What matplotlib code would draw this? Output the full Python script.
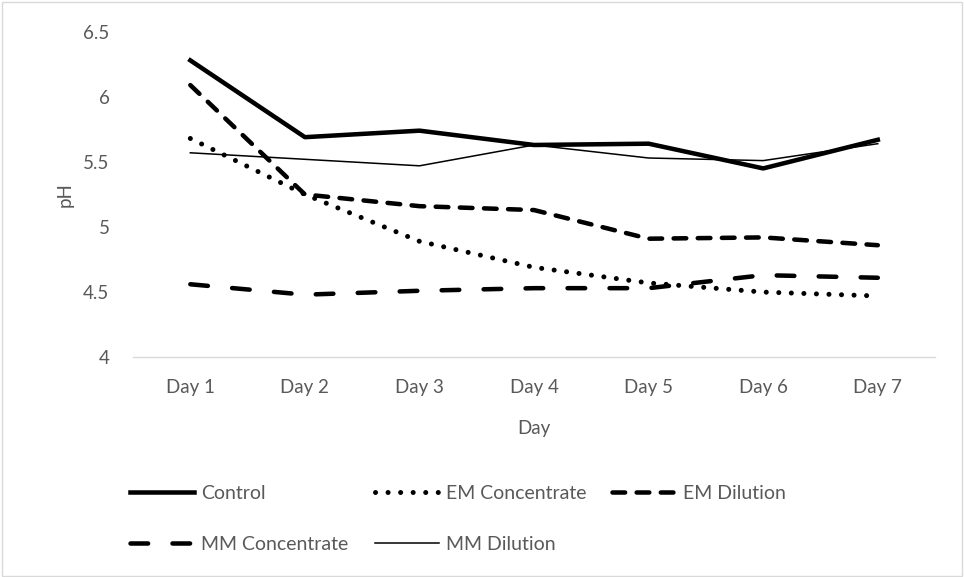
import numpy as np
import matplotlib
matplotlib.use("Agg")
import matplotlib.pyplot as plt
from matplotlib.patches import Rectangle

plt.rcParams['font.family'] = ['Lato', 'DejaVu Sans']

days = ["Day 1", "Day 2", "Day 3", "Day 4", "Day 5", "Day 6", "Day 7"]
control = [6.28, 5.69, 5.74, 5.63, 5.64, 5.45, 5.67]
em_concentrate = [5.68, 5.25, 4.89, 4.69, 4.57, 4.50, 4.47]
em_dilution = [6.09, 5.25, 5.16, 5.13, 4.91, 4.92, 4.86]
mm_concentrate = [4.56, 4.48, 4.51, 4.53, 4.53, 4.63, 4.61]
mm_dilution = [5.57, 5.52, 5.47, 5.63, 5.53, 5.51, 5.64]

grey = '#595959'
light = '#d9d9d9'
lw_thick = 3.25
fs = 13.5

series = [
    ('Control', control, dict(lw=lw_thick, ls='-')),
    ('EM Concentrate', em_concentrate, dict(lw=3.6, ls=(0, (0.01, 2.5)))),
    ('EM Dilution', em_dilution, dict(lw=lw_thick, ls=(0, (2.8, 2.55)))),
    ('MM Concentrate', mm_concentrate, dict(lw=lw_thick, ls=(0, (3.9, 5.4)))),
    ('MM Dilution', mm_dilution, dict(lw=1.1, ls='-')),
]

fig = plt.figure(figsize=(9.64, 5.77), dpi=100)
ax = fig.add_axes([0.138, 0.381, 0.832, 0.564])

x = np.arange(len(days))
lines = {}
for name, vals, st in series:
    ln, = ax.plot(x, vals, color='black', dash_capstyle='round',
                  solid_joinstyle='round', zorder=3, **st)
    lines[name] = ln

ax.set_xlim(-0.5, len(days) - 0.5)
ax.set_ylim(4, 6.5)
ax.set_yticks([4, 4.5, 5, 5.5, 6, 6.5])
ax.set_yticklabels(['4', '4.5', '5', '5.5', '6', '6.5'])
ax.set_xticks(x)
ax.set_xticklabels(days)

for s in ['top', 'right', 'left']:
    ax.spines[s].set_visible(False)
ax.spines['bottom'].set_color(light)
ax.spines['bottom'].set_linewidth(1.0)
ax.tick_params(axis='both', length=0, labelsize=fs, colors=grey)
ax.tick_params(axis='y', pad=17)
ax.tick_params(axis='x', pad=16)

ax.set_xlabel('Day', fontsize=fs, color=grey, labelpad=17)
ax.set_ylabel('pH', fontsize=fs, color=grey, labelpad=7)

# ncol fills column-wise, so order the entries to read across the rows
order = ['Control', 'MM Concentrate', 'EM Concentrate', 'MM Dilution', 'EM Dilution']
fig.legend([lines[k] for k in order], order, loc='upper left',
           bbox_to_anchor=(0.135, 0.16), ncol=3, frameon=False,
           fontsize=14, handlelength=3.3, handletextpad=0.35,
           columnspacing=1.35, labelspacing=1.75, labelcolor=grey,
           borderaxespad=0, borderpad=0)

fig.patches.append(Rectangle((0.002, 0.002), 0.996, 0.994, transform=fig.transFigure,
                             fill=False, edgecolor=light, lw=1.0))

fig.savefig('out.png', dpi=100)
